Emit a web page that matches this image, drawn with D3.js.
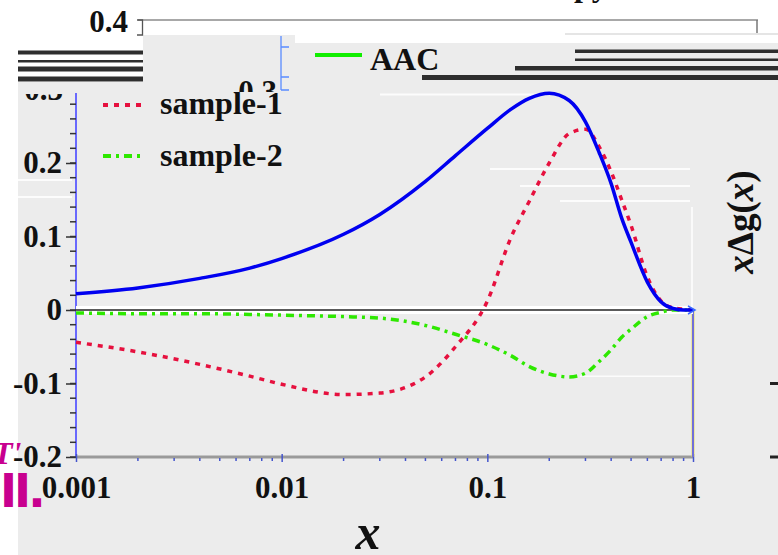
<!DOCTYPE html>
<html>
<head>
<meta charset="utf-8">
<script src="https://cdn.jsdelivr.net/npm/d3@7"></script>
<style>
  html, body { margin: 0; padding: 0; background: #ffffff; }
  svg { display: block; }
  text { font-family: "Liberation Serif", "Times New Roman", serif; font-weight: bold; fill: #111; }
</style>
</head>
<body>
<svg id="chart" width="778" height="555"></svg>
<script>
// Momentum fraction grid shared by all curves
const xGrid = [0.001, 0.002, 0.004, 0.007, 0.01, 0.02, 0.03, 0.05, 0.07, 0.1, 0.13, 0.16, 0.2,
               0.25, 0.3, 0.35, 0.4, 0.45, 0.5, 0.6, 0.7, 0.8, 0.9, 1];

// x·Δg(x) for each set
const aacValues     = [0.022, 0.030, 0.043, 0.057, 0.070, 0.103, 0.130, 0.175, 0.210, 0.247, 0.273, 0.288, 0.295,
                       0.285, 0.256, 0.214, 0.172, 0.125, 0.092, 0.038, 0.011, 0.002, 0.0, 0.0];
const sample1Values = [-0.044, -0.057, -0.074, -0.090, -0.101, -0.115, -0.113, -0.091, -0.050, 0.012, 0.098, 0.148, 0.200,
                       0.240, 0.246, 0.222, 0.188, 0.150, 0.115, 0.045, 0.012, 0.003, 0.001, 0.0];
const sample2Values = [-0.004, -0.005, -0.005, -0.006, -0.007, -0.009, -0.011, -0.021, -0.033, -0.047, -0.062, -0.077, -0.087,
                       -0.091, -0.086, -0.070, -0.054, -0.037, -0.026, -0.009, -0.003, 0.0, 0.0, 0.0];

const xTickValues = [0.001, 0.01, 0.1, 1];
const xTickLabels = ["0.001", "0.01", "0.1", "1"];
const yTickValues = [-0.2, -0.1, 0, 0.1, 0.2];
const yTickLabels = ["-0.2", "-0.1", "0", "0.1", "0.2"];

const seriesNames = ["AAC", "sample-1", "sample-2"];

const svg = d3.select("#chart");

const x = d3.scaleLog().domain([0.001, 1]).range([76, 693]);
const y = d3.scaleLinear().domain([-0.2, 0.2]).range([457, 163]);

// ---- panel backgrounds ----
const bg = "#ececec";
svg.append("rect").attr("x", 18).attr("y", 82).attr("width", 760).attr("height", 473).attr("fill", bg);
svg.append("rect").attr("x", 143).attr("y", 35).attr("width", 152).attr("height", 47).attr("fill", bg);
svg.append("rect").attr("x", 295).attr("y", 43).attr("width", 483).attr("height", 39).attr("fill", bg);

// ---- upper frame of the neighbouring panel ----
svg.append("line").attr("x1", 138).attr("x2", 758).attr("y1", 20).attr("y2", 20)
  .attr("stroke", "#a8a8a8").attr("stroke-width", 2);
svg.append("path").attr("d", "M137,20 H142.5 V35 H137").attr("fill", "none").attr("stroke", "#555").attr("stroke-width", 1.3);
svg.append("line").attr("x1", 757).attr("x2", 757).attr("y1", 20).attr("y2", 33)
  .attr("stroke", "#777").attr("stroke-width", 1.5);
svg.append("line").attr("x1", 565).attr("x2", 778).attr("y1", 34).attr("y2", 34)
  .attr("stroke", "#dcdcdc").attr("stroke-width", 1.5);
svg.append("text").attr("x", 128).attr("y", 32).attr("text-anchor", "end")
  .style("font-size", "31px").text("0.4");
svg.append("text").attr("x", 574).attr("y", -4).style("font-size", "32px").text("py");

// dark horizontal bars
const bars = [
  [18, 143, 50.5, 4], [18, 143, 60, 2.5], [18, 143, 66.5, 5], [18, 143, 76.5, 5],
  [575, 778, 49.5, 3.5], [575, 778, 58.5, 2.5], [515, 778, 66, 4.5], [422, 778, 75, 5]
];
bars.forEach(b => svg.append("rect").attr("x", b[0]).attr("y", b[2]).attr("width", b[1] - b[0])
  .attr("height", b[3]).attr("fill", "#2e2e2e"));

// small axis fragment with the clipped 0.3 label
svg.append("path").attr("d", "M281,36 V90 M281,47 H289 M281,77 H289 M281,90 H289")
  .attr("fill", "none").attr("stroke", "#5a8cff").attr("stroke-width", 1.3);
const defs = svg.append("defs");
defs.append("clipPath").attr("id", "clipTop").append("rect").attr("x", 200).attr("y", 70).attr("width", 80).attr("height", 22);
defs.append("clipPath").attr("id", "clipLeft").append("rect").attr("x", 18).attr("y", 94).attr("width", 60).attr("height", 20);
svg.append("text").attr("clip-path", "url(#clipTop)").attr("x", 277).attr("y", 102)
  .attr("text-anchor", "end").style("font-size", "31px").text("0.3");

// faint white streaks
const streaks = [[380, 540, 93.5, 2], [18, 72, 179, 2], [18, 72, 196, 2], [490, 690, 168, 2],
                 [520, 690, 185, 2], [560, 690, 200, 2], [580, 690, 375.5, 1.5]];
streaks.forEach(s => svg.append("rect").attr("x", s[0]).attr("y", s[2]).attr("width", s[1] - s[0])
  .attr("height", s[3]).attr("fill", "#ffffff").attr("opacity", 0.85));
svg.append("line").attr("x1", 692).attr("x2", 692).attr("y1", 207).attr("y2", 310)
  .attr("stroke", "#ffffff").attr("stroke-width", 1.5);

// ---- axes ----
// left axis
svg.append("line").attr("x1", x(0.001)).attr("x2", x(0.001)).attr("y1", 93).attr("y2", y(-0.2))
  .attr("stroke", "#5b5bff").attr("stroke-width", 1.8);
const minorY = d3.range(-0.2, 0.30001, 0.02).filter(v => y(v) > 93);
svg.append("g").selectAll("line").data(minorY).join("line")
  .attr("x1", x(0.001) - 6).attr("x2", x(0.001)).attr("y1", d => y(d)).attr("y2", d => y(d))
  .attr("stroke", "#333").attr("stroke-width", 1.5);
const yAxis = d3.axisLeft(y).tickValues(yTickValues).tickFormat((d, i) => yTickLabels[i])
  .tickSize(10).tickPadding(4);
const gy = svg.append("g").attr("transform", `translate(${x(0.001)},0)`).call(yAxis);
gy.select(".domain").remove();
gy.selectAll(".tick line").attr("stroke", "#333").attr("stroke-width", 1.5);
gy.selectAll(".tick text").style("font-size", "31px").style("font-family", "Liberation Serif, serif")
  .style("font-weight", "bold").attr("fill", "#111");
svg.append("text").attr("clip-path", "url(#clipLeft)").attr("x", 63).attr("y", y(0.3) + 10)
  .attr("text-anchor", "end").style("font-size", "31px").text("0.3");

// bottom axis
svg.append("line").attr("x1", x(0.001)).attr("x2", x(1)).attr("y1", y(-0.2)).attr("y2", y(-0.2))
  .attr("stroke", "#9a9a9a").attr("stroke-width", 3);
const minorX = [];
[0.001, 0.01, 0.1].forEach(d => { for (let k = 2; k <= 9; k++) minorX.push(d * k); });
svg.append("g").selectAll("line").data(minorX).join("line")
  .attr("x1", d => x(d)).attr("x2", d => x(d)).attr("y1", y(-0.2) + 1).attr("y2", y(-0.2) + 4)
  .attr("stroke", "#4455cc").attr("stroke-width", 1.5);
const xAxis = d3.axisBottom(x).tickValues(xTickValues).tickFormat((d, i) => xTickLabels[i])
  .tickSize(5).tickPadding(14);
const gx = svg.append("g").attr("transform", `translate(0,${y(-0.2)})`).call(xAxis);
gx.select(".domain").remove();
gx.selectAll(".tick line").attr("stroke", "#4455cc").attr("stroke-width", 1.5).attr("y1", -3);
gx.selectAll(".tick text").style("font-size", "31px").style("font-family", "Liberation Serif, serif")
  .style("font-weight", "bold").attr("fill", "#111");

// right axis
svg.append("line").attr("x1", x(1)).attr("x2", x(1)).attr("y1", y(0)).attr("y2", y(-0.2))
  .attr("stroke", "#e8e060").attr("stroke-width", 3);
svg.append("line").attr("x1", x(1)).attr("x2", x(1)).attr("y1", y(0)).attr("y2", y(-0.2))
  .attr("stroke", "#4a4aff").attr("stroke-width", 1.5);

// zero line with white halo
svg.append("line").attr("x1", x(0.001)).attr("x2", x(1)).attr("y1", y(0)).attr("y2", y(0))
  .attr("stroke", "#ffffff").attr("stroke-width", 8);
svg.append("line").attr("x1", x(0.001)).attr("x2", x(1)).attr("y1", y(0)).attr("y2", y(0))
  .attr("stroke", "#5a5a5a").attr("stroke-width", 2);

// right margin tick marks
[-0.1, -0.2].forEach(v => svg.append("rect").attr("x", 770).attr("y", y(v) - 1.5)
  .attr("width", 8).attr("height", 3).attr("fill", "#222"));

// ---- curves ----
const line = d3.line().x(d => x(d[0])).y(d => y(d[1])).curve(d3.curveMonotoneX);
const styles = [
  { values: aacValues, color: "#0000f0", dash: null, width: 3.5 },
  { values: sample1Values, color: "#e6103e", dash: "5,6", width: 3.5 },
  { values: sample2Values, color: "#2ee800", dash: "8,5,3,5", width: 3.5 }
];
// draw the dashed sets first so the solid curve sits on top
[1, 2, 0].forEach(i => {
  const s = styles[i];
  svg.append("path").datum(xGrid.map((xv, j) => [xv, s.values[j]]))
    .attr("d", line).attr("fill", "none").attr("stroke", s.color)
    .attr("stroke-width", s.width).attr("stroke-dasharray", s.dash)
    .attr("stroke-linecap", "butt").attr("stroke-linejoin", "round");
});
svg.append("path").attr("d", `M${x(1) - 5},${y(0) - 4} L${x(1) + 2},${y(0)} L${x(1) - 5},${y(0) + 4}`)
  .attr("fill", "none").attr("stroke", "#3a6aff").attr("stroke-width", 1.5);

// ---- legend ----
const legend = [
  { name: seriesNames[0], color: "#11ee00", dash: null, x1: 315, x2: 362, ly: 55, tx: 370, ty: 70 },
  { name: seriesNames[1], color: "#e6103e", dash: "5,6", x1: 103, x2: 145, ly: 105, tx: 160, ty: 114 },
  { name: seriesNames[2], color: "#2ee800", dash: "8,5,3,5", x1: 103, x2: 145, ly: 156, tx: 160, ty: 166 }
];
legend.forEach(l => {
  svg.append("line").attr("x1", l.x1).attr("x2", l.x2).attr("y1", l.ly).attr("y2", l.ly)
    .attr("stroke", l.color).attr("stroke-width", 4).attr("stroke-dasharray", l.dash);
  svg.append("text").attr("x", l.tx).attr("y", l.ty).style("font-size", "32px").text(l.name);
});

// ---- axis titles ----
svg.append("text").attr("x", 368).attr("y", 549).attr("text-anchor", "middle")
  .style("font-size", "50px").style("font-style", "italic").text("x");
const yt = svg.append("text").attr("transform", "translate(753,222) rotate(-90)")
  .attr("text-anchor", "middle").style("font-size", "37px");
yt.append("tspan").style("font-style", "italic").text("x");
yt.append("tspan").text("Δg(");
yt.append("tspan").style("font-style", "italic").text("x");
yt.append("tspan").text(")");

// ---- magenta marks at the left edge ----
svg.append("text").attr("x", -7).attr("y", 464).style("font-size", "32px").style("font-style", "italic")
  .style("fill", "#c8008f").text("T'");
svg.append("text").attr("x", 0).attr("y", 507).style("font-family", "DejaVu Sans, sans-serif")
  .style("font-size", "46px").style("fill", "#c8008f").attr("letter-spacing", "-3").text("II.");
</script>
</body>
</html>
